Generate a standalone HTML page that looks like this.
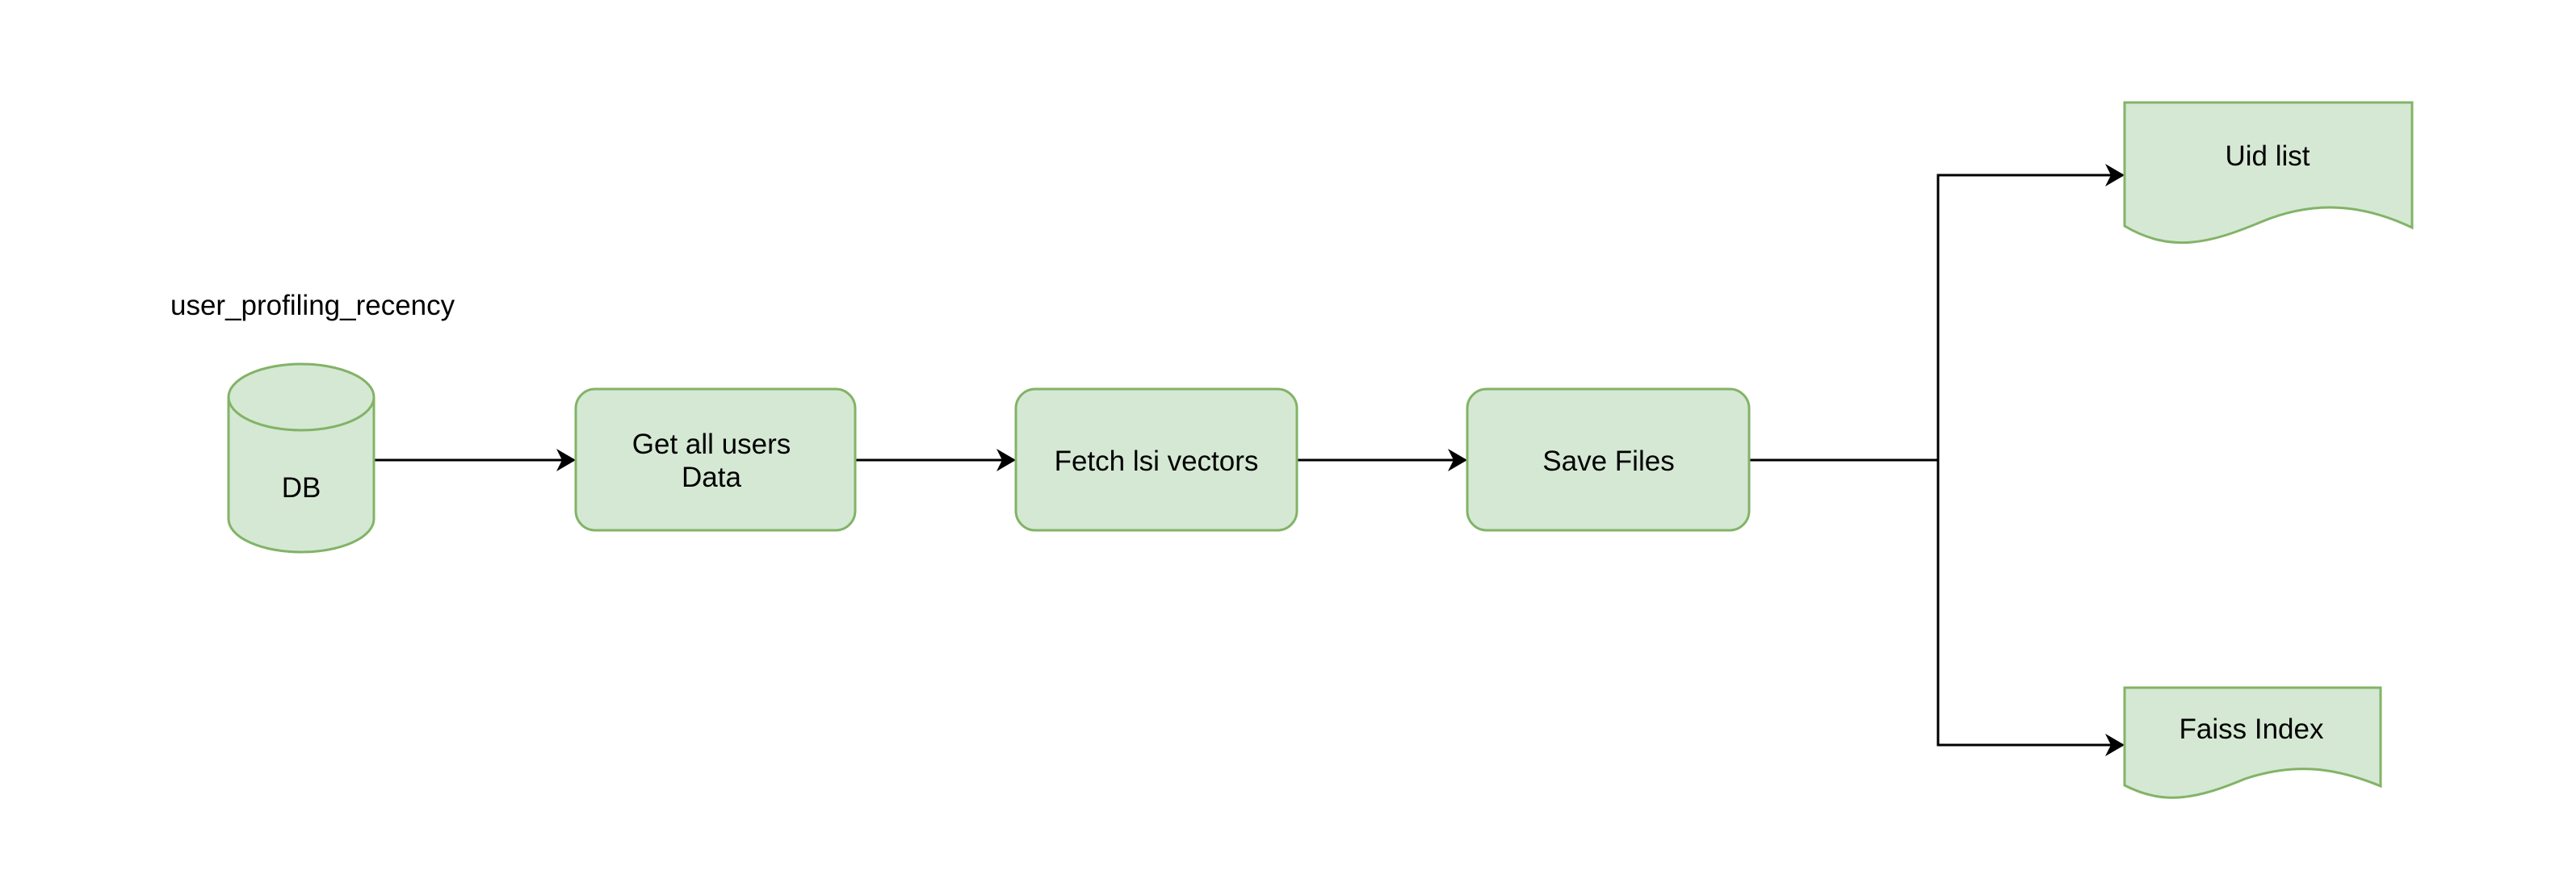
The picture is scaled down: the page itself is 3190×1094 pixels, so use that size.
<!DOCTYPE html>
<html><head><meta charset="utf-8"><style>
html,body{margin:0;padding:0;background:#fff;}
svg{display:block;}
text{font-family:"Liberation Sans",Arial,sans-serif;font-size:35px;fill:#000;}
</style></head><body>
<svg width="3190" height="1094" viewBox="0 0 3190 1094" xmlns="http://www.w3.org/2000/svg">
<defs>
<marker id="a" markerWidth="24" markerHeight="28" refX="22" refY="14" orient="auto" markerUnits="userSpaceOnUse">
<path d="M0,0 L24,14 L0,28 L7,14 Z" fill="#000"/>
</marker>
</defs>
<g stroke="#000" stroke-width="3" fill="none">
<line x1="464" y1="570" x2="711" y2="570" marker-end="url(#a)"/>
<line x1="1059" y1="570" x2="1256" y2="570" marker-end="url(#a)"/>
<line x1="1606" y1="570" x2="1815" y2="570" marker-end="url(#a)"/>
<polyline points="2166,570 2400,570 2400,217 2629,217" marker-end="url(#a)"/>
<polyline points="2400,570 2400,923 2629,923" marker-end="url(#a)"/>
</g>
<g fill="#d5e8d4" stroke="#82b366" stroke-width="3">
<path d="M283,492 L283,643 A90,41 0 0 0 463,643 L463,492 A90,41 0 0 0 283,492 Z"/>
<path d="M283,492 A90,41 0 0 0 463,492" fill="none"/>
<rect x="713" y="482" width="346" height="175" rx="24"/>
<rect x="1258" y="482" width="348" height="175" rx="24"/>
<rect x="1817" y="482" width="349" height="175" rx="24"/>
<path d="M2631,127 L2987,127 L2987,282 C2920,250 2860,250 2800,275 C2740,300 2690,315 2631,280 Z"/>
<path d="M2631,852 L2948,852 L2948,974 C2890,950 2840,945 2780,965 C2720,990 2680,998 2631,973 Z"/>
</g>
<text x="211" y="390">user_profiling_recency</text>
<text x="373" y="616" text-anchor="middle">DB</text>
<text x="881" y="562" text-anchor="middle">Get all users</text>
<text x="881" y="603" text-anchor="middle">Data</text>
<text x="1432" y="583" text-anchor="middle">Fetch lsi vectors</text>
<text x="1992" y="583" text-anchor="middle">Save Files</text>
<text x="2808" y="205" text-anchor="middle">Uid list</text>
<text x="2788" y="915" text-anchor="middle">Faiss Index</text>
</svg>
</body></html>
